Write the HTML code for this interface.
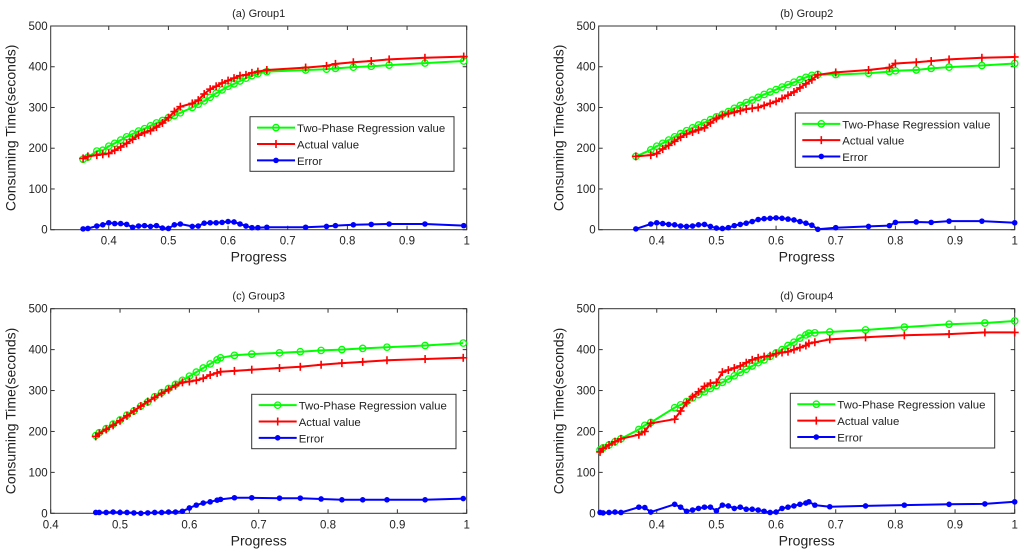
<!DOCTYPE html>
<html><head><meta charset="utf-8"><style>
html,body{margin:0;padding:0;background:#fff;}
svg{display:block;font-family:"Liberation Sans",sans-serif;}
</style></head><body>
<svg id="fig" width="1024" height="552" viewBox="0 0 1024 552" xmlns="http://www.w3.org/2000/svg"></svg>
<script>
// ---- data: Group1 ----
const xA = [0.357,0.365,0.38,0.39,0.40,0.41,0.42,0.43,0.44,0.45,0.46,0.47,0.48,0.49,0.50,0.51,0.52,0.54,0.55,0.56,0.57,0.58,0.59,0.60,0.61,0.62,0.63,0.64,0.65,0.665,0.73,0.765,0.78,0.81,0.84,0.87,0.93,0.995];
const regA = [173,178,193,195,205,212,220,228,235,242,248,255,262,268,275,280,287,300,308,316,325,335,343,352,358,365,372,378,383,388,392,394,396,399,401,404,409,414];
const actA = [175,180,183,185,187,195,203,212,222,232,238,243,252,262,275,290,302,310,318,333,345,352,360,366,372,378,380,385,388,392,398,402,407,411,414,418,422,425];
const errA = [2,3,9,12,17,15,15,13,6,9,10,8,10,4,3,12,14,8,9,16,17,17,18,20,19,14,9,5,5,6,6,8,10,12,13,14,14,10];
// ---- data: Group2 ----
const xB = [0.365,0.39,0.40,0.41,0.42,0.43,0.44,0.45,0.46,0.47,0.48,0.49,0.50,0.51,0.52,0.53,0.54,0.55,0.56,0.57,0.58,0.59,0.60,0.61,0.62,0.63,0.64,0.65,0.66,0.67,0.70,0.755,0.79,0.80,0.835,0.86,0.89,0.945,1.0];
const regB = [180,196,205,212,220,228,236,243,250,257,263,270,277,283,290,298,305,312,318,325,332,338,344,350,356,362,368,374,379,381,381,384,388,390,392,396,399,403,408];
const actB = [180,183,187,198,207,217,227,235,240,245,250,262,273,280,285,288,292,296,298,300,305,310,315,322,330,338,348,358,368,380,386,392,398,408,411,414,418,422,424];
const errB = [2,14,17,15,13,12,9,8,9,12,13,8,4,3,5,10,13,16,20,25,27,28,29,28,26,24,20,16,11,1,5,8,10,18,19,18,21,21,17];
// ---- data: Group3 ----
const xC = [0.465,0.47,0.48,0.49,0.50,0.51,0.52,0.53,0.54,0.55,0.56,0.57,0.58,0.59,0.60,0.61,0.62,0.63,0.64,0.645,0.665,0.69,0.73,0.76,0.79,0.82,0.85,0.885,0.94,0.995];
const regC = [190,197,207,218,228,240,250,262,272,285,295,305,315,325,335,345,355,365,375,380,386,389,392,395,398,400,403,406,410,416];
const actC = [188,195,205,215,226,238,250,262,273,283,293,302,312,320,322,325,330,338,343,346,348,351,355,358,363,367,370,374,377,380];
const errC = [2,2,2,3,2,2,1,0,1,2,2,3,3,5,13,20,25,28,32,34,38,38,37,37,35,33,33,33,33,36];
// ---- data: Group4 ----
const xD = [0.305,0.31,0.32,0.33,0.34,0.37,0.38,0.39,0.43,0.44,0.45,0.46,0.47,0.48,0.49,0.50,0.51,0.52,0.53,0.54,0.55,0.56,0.57,0.58,0.59,0.60,0.61,0.62,0.63,0.64,0.65,0.655,0.665,0.69,0.75,0.815,0.89,0.95,1.0];
const regD = [155,160,167,175,182,205,215,222,258,265,273,282,290,297,305,312,320,328,336,344,352,360,368,375,383,392,400,410,418,428,436,440,441,443,448,455,462,465,470];
const actD = [150,158,167,175,182,192,200,220,230,250,270,285,297,310,318,320,345,350,355,360,368,375,380,383,385,390,393,395,400,405,410,415,418,425,430,435,438,442,442];
const errD = [2,1,2,3,2,15,14,3,22,15,5,8,12,15,15,6,20,18,12,15,10,10,8,5,2,3,12,15,18,22,25,28,20,16,18,20,22,23,28];
// ---- tick labels ----
const yTicks = [0,100,200,300,400,500];
const xTicksAB = [0.4,0.5,0.6,0.7,0.8,0.9,1];
const xTicksC = [0.4,0.5,0.6,0.7,0.8,0.9,1];
const legendLabels = ["Two-Phase Regression value","Actual value","Error"];

const NS = "http://www.w3.org/2000/svg";
const svg = document.getElementById('fig');
function mk(tag, attrs, parent){
  const e = document.createElementNS(NS, tag);
  for (const k in attrs) e.setAttribute(k, attrs[k]);
  (parent||svg).appendChild(e);
  return e;
}
function fmt(v){ return (v===1?"1":String(v)); }

function panel(name, title, L, R, T, B, xmin, xmax, xs, reg, act, err, xt, leg){
  const g = mk('g', {});
  
  
  const sx = v => L + (v - xmin) / (xmax - xmin) * (R - L);
  const sy = v => B - v / 500 * (B - T);
  const t = mk('text', {x:(L+R)/2, y:T-9, 'text-anchor':'middle', 'font-size':11, fill:'#222'}, g);
  t.textContent = title;
  
  
  const box = mk('rect', {x:L, y:T, width:R-L, height:B-T, fill:'#fff', stroke:'#333', 'stroke-width':1}, g);
  
  
  yTicks.forEach(v => {
    const y = sy(v);
    mk('line', {x1:L, x2:L+4, y1:y, y2:y, stroke:'#333'}, g);
    mk('line', {x1:R, x2:R-4, y1:y, y2:y, stroke:'#333'}, g);
    const tl = mk('text', {x:L-3, y:y+4, 'text-anchor':'end', 'font-size':11.5, fill:'#222'}, g);
    tl.textContent = v;
    
    
  });
  xt.forEach(v => {
    const x = sx(v);
    mk('line', {x1:x, x2:x, y1:B, y2:B-4, stroke:'#333'}, g);
    mk('line', {x1:x, x2:x, y1:T, y2:T+4, stroke:'#333'}, g);
    const tl = mk('text', {x:x, y:B+15, 'text-anchor':'middle', 'font-size':11.5, fill:'#222'}, g);
    tl.textContent = fmt(v);
    
    
  });
  const xl = mk('text', {x:(L+R)/2, y:B+32, 'text-anchor':'middle', 'font-size':14, fill:'#222'}, g);
  xl.textContent = 'Progress';
  
  
  const yx = L - 35, yy = (T+B)/2;
  const yl = mk('text', {x:yx, y:yy, 'text-anchor':'middle', 'font-size':14, fill:'#222', transform:`rotate(-90 ${yx} ${yy})`}, g);
  yl.textContent = 'Consuming Time(seconds)';
  
  

  function series(vals, color, marker, sname){
    const sg = mk('g', {}, g);
    
    
    const pts = xs.map((x,i) => sx(x).toFixed(1)+','+sy(vals[i]).toFixed(1)).join(' ');
    mk('polyline', {points:pts, fill:'none', stroke:color, 'stroke-width':2, 'stroke-linejoin':'round'}, sg);
    xs.forEach((x,i) => drawMarker(sg, sx(x), sy(vals[i]), color, marker));
  }
  series(reg, '#00ff00', 'o', 'regression-series');
  series(act, '#ff0000', '+', 'actual-series');
  series(err, '#0000ff', '*', 'error-series');

  const lg = mk('g', {}, g);
  
  
  mk('rect', {x:leg[0], y:leg[1], width:leg[2]-leg[0], height:leg[3]-leg[1], fill:'#fff', stroke:'#333'}, lg);
  const cols = ['#00ff00','#ff0000','#0000ff'], mks = ['o','+','*'];
  const h = (leg[3]-leg[1]);
  legendLabels.forEach((lab,i) => {
    const y = leg[1] + h*(0.2 + 0.3*i);
    const e = mk('g', {}, lg);
    
    
    mk('line', {x1:leg[0]+7, x2:leg[0]+45, y1:y, y2:y, stroke:cols[i], 'stroke-width':2}, e);
    drawMarker(e, leg[0]+26, y, cols[i], mks[i]);
    const tx = mk('text', {x:leg[0]+47, y:y+4.5, 'font-size':11.4, fill:'#222'}, e);
    tx.textContent = lab;
  });
}
function drawMarker(g, x, y, c, m){
  if (m==='o') mk('circle', {cx:x, cy:y, r:3.2, fill:'none', stroke:c, 'stroke-width':1.3}, g);
  else if (m==='+'){
    mk('line', {x1:x-4, x2:x+4, y1:y, y2:y, stroke:c, 'stroke-width':1.6}, g);
    mk('line', {x1:x, x2:x, y1:y-4, y2:y+4, stroke:c, 'stroke-width':1.6}, g);
  } else mk('circle', {cx:x, cy:y, r:2.8, fill:c}, g);
}

panel('panel-group1', '(a) Group1', 50.7, 466.7, 26, 229.7, 0.3027, 1.0, xA, regA, actA, errA, xTicksAB, [250,116.7,454,171.3]);
panel('panel-group2', '(b) Group2', 598.7, 1014.7, 26, 229.7, 0.3027, 1.0, xB, regB, actB, errB, xTicksAB, [795.3,113,999.3,167.3]);
panel('panel-group3', '(c) Group3', 50.7, 466.7, 308.7, 513.3, 0.4, 1.0, xC, regC, actC, errC, xTicksC, [251.7,394.3,456,448.7]);
panel('panel-group4', '(d) Group4', 598.7, 1014.7, 308.7, 513.3, 0.3027, 1.0, xD, regD, actD, errD, xTicksAB, [790.3,393.3,994.7,448]);
</script>
</body></html>
